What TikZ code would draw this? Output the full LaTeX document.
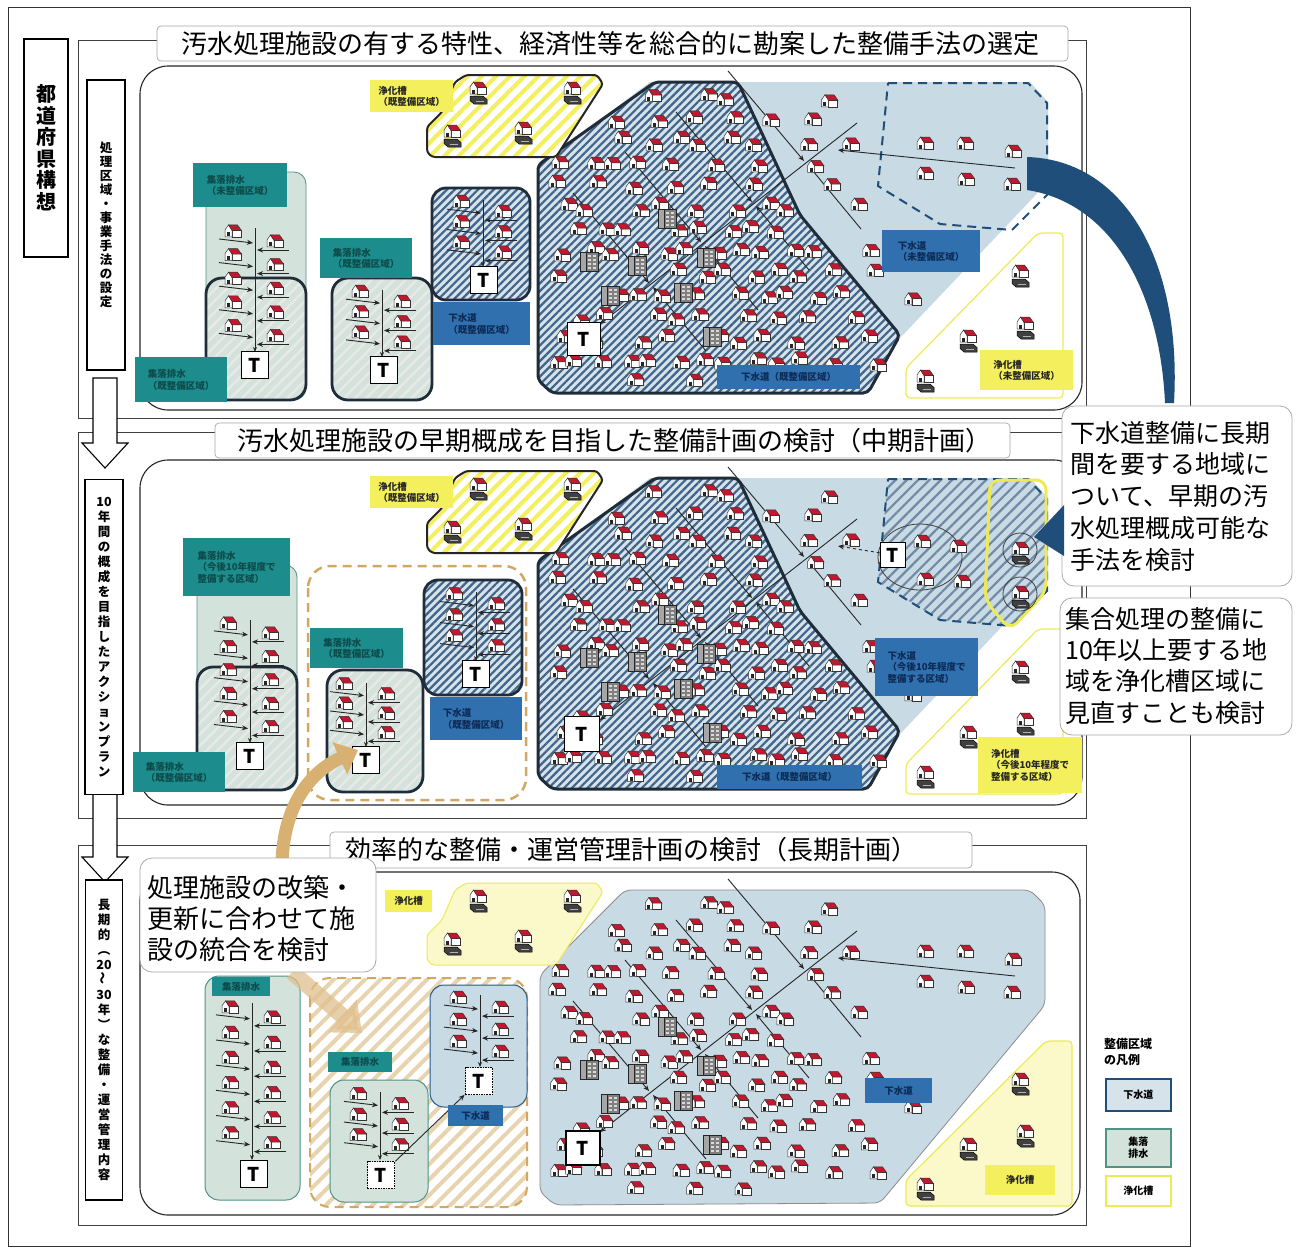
\documentclass[tikz,border=0pt]{standalone}
\usepackage{fontspec}
\setmainfont{Noto Sans CJK JP}
\usepackage{graphicx}
\usetikzlibrary{patterns.meta,arrows.meta}

\definecolor{skyfill}{HTML}{C8DAE4}
\definecolor{hatchline}{HTML}{41648A}
\definecolor{hatchbg}{HTML}{D6E3EA}
\definecolor{edgedark}{HTML}{1F2C3A}
\definecolor{greenfill}{HTML}{D3E2DA}
\definecolor{greenedge}{HTML}{4E9384}
\definecolor{tealtag}{HTML}{1C8C8C}
\definecolor{tealtext}{HTML}{0E4A4A}
\definecolor{bluetag}{HTML}{3070AE}
\definecolor{bluetext}{HTML}{0C2B55}
\definecolor{yeltag}{HTML}{F4EF5C}
\definecolor{yelline}{HTML}{EDEA55}
\definecolor{yelpale}{HTML}{FBF8C9}
\definecolor{tanline}{HTML}{D2A860}
\definecolor{tanarrow}{HTML}{D8B071}
\definecolor{swoosh}{HTML}{1F4E7A}
\definecolor{roofred}{HTML}{C0182F}
\definecolor{callgray}{HTML}{A8A8A8}

\tikzset{
  house/.pic={
    \filldraw[fill=white,draw=black!80,line width=0.5] (-1,0) rectangle (8,7);
    \filldraw[fill=white,draw=black!80,line width=0.5] (-8,0) -- (-4.5,-5) -- (-1,0) -- (-1,7) -- (-8,7) -- cycle;
    \filldraw[fill=roofred,draw=black!80,line width=0.5] (-4.5,-5) -- (4.5,-5) -- (8.5,0.5) -- (-1,0.5) -- cycle;
    \fill[black!85] (-6,2.5) rectangle (-3,6.5);
  },
  septic/.pic={
    \pic at (0,-3) {house};
    \filldraw[fill=black!75,draw=black,line width=0.5] (-8,6) -- (5,6) -- (9,9.5) -- (9,14) -- (-4,14) -- (-8,10.5) -- cycle;
    \draw[black!30,line width=0.7] (-2,11.5) -- (6,11.5);
  },
  building/.pic={
    \filldraw[fill=black!50,draw=black!85,line width=0.5] (-9,-10) rectangle (9,9);
    \filldraw[fill=black!35,draw=black!85,line width=0.5] (-9,-10) rectangle (-3,9);
    \foreach \u in {-1,4} \foreach \v in {-7,-3,1,5} \fill[black!15] (\u,\v) rectangle ++(3,2);
  },
  frameline/.style={draw=black!75,line width=0.9},
  stage/.style={draw=black!85,line width=1.1,fill=white,rounded corners=28},
  titletext/.style={font=\fontsize{26}{30}\selectfont,inner sep=0},
  titlebg/.style={draw=black!35,line width=0.7,fill=white,rounded corners=4},
  vlab/.style={draw=black,line width=1.1,fill=white,align=center,inner sep=0},
  callbox/.style={draw=callgray,line width=0.8,fill=white,rounded corners=12},
  calltext/.style={align=left,inner sep=0,anchor=north west},
  tagT/.style={fill=tealtag,text=tealtext,align=left,anchor=north west,inner sep=3,font=\bfseries\fontsize{9.5}{11.5}\selectfont},
  tagB/.style={fill=bluetag,text=bluetext,align=left,anchor=north west,inner sep=3,font=\bfseries\fontsize{9.5}{11.5}\selectfont},
  tagY/.style={fill=yeltag,text=black!85,align=left,anchor=north west,inner sep=3,font=\bfseries\fontsize{9.5}{11.5}\selectfont},
  tbox/.style={draw=black,line width=1.6,fill=white,minimum size=27,inner sep=0,font=\bfseries\fontsize{19}{19}\selectfont},
  tdot/.style={tbox,densely dotted,line width=1.8},
  pipe/.style={draw=black!85,line width=0.9},
  flow/.style={pipe,-{Stealth[length=6pt,width=5pt]}},
  sewerhatch/.style={pattern={Lines[angle=45,distance=5.5pt,line width=2.2pt]},pattern color=hatchline},
  softhatch/.style={pattern={Lines[angle=45,distance=8pt,line width=2.2pt]},pattern color=hatchline!75},
  greenhatch/.style={pattern={Lines[angle=45,distance=8pt,line width=2.5pt]},pattern color=black!9},
  yelhatch/.style={pattern={Lines[angle=45,distance=10pt,line width=4pt]},pattern color=yeltag},
  tanhatch/.style={pattern={Lines[angle=45,distance=11pt,line width=4pt]},pattern color=tanline!50},
  legbox/.style={line width=1.8,minimum width=65,minimum height=32,inner sep=0,align=center,anchor=north west,font=\bfseries\fontsize{10}{12}\selectfont},
}

% houses scattered over the sewer district (coordinates of the first stage)
\newcommand\scatterhouses{%
  \foreach \i in {0,...,13}{%
    \foreach \j in {0,...,19}{%
      \pgfmathsetmacro\hx{553+25*\j+12*mod(\i,2)+6*sin(97*\i+131*\j+13)}%
      \pgfmathsetmacro\hy{96+22*\i+4*sin(61*\i+173*\j+7)}%
      \pgfmathsetmacro\rr{0.5+0.5*sin(37*\i*\j+89*\j+47*\i+5)}%
      \pgfmathsetmacro\bd{\hy<215 ? 738+(\hy-82)*0.466 : 800+(\hy-215)*0.83}%
      \pgfmathtruncatemacro\inA{(\hy>92)&&(\hy<380)&&(\hx>553)&&(\hy>174-(\hx-538)*0.74)&&(\hx<\bd-10)&&(\rr<0.85)}%
      \pgfmathtruncatemacro\inB{(\hy>95)&&(\hy<362)&&(\hx>\bd+12)&&(\hx<1034)&&(\hx<1048-(\hy-182)*0.94-18)&&((\hx<868)||(\hy>240))&&(\rr<0.42)}%
      \ifnum\inA=1 \pic at (\hx,\hy) {house};\fi
      \ifnum\inB=1 \pic at (\hx,\hy) {house};\fi
    }%
  }%
}

% sewer trunk with its branches
\newcommand\trunkpipes{%
  \draw[flow] (857,123) -- (600,324);
  \foreach \px/\py in {806/163,754/204,703/244,651/285}{%
    \draw[flow] (\px-78,\py-92) -- (\px-2,\py-2);
    \draw[flow] (\px+55,\py+66) -- (\px+2,\py+2);
  }%
}

\newcommand\officeblocks{%
  \foreach \bx/\by in {589/262,610/296,637/266,667/219,683/293,706/258,712/337}{\pic at (\bx,\by) {building};}%
}

% a village collecting pipe with houses on both sides
\newcommand\villa[4]{%
  \pgfmathsetmacro\vstep{(#3-#2-6)/#4}%
  \draw[pipe,-{Stealth[length=5pt,width=4pt]}] (#1,#2) -- (#1,#3);
  \foreach \k in {1,...,#4}{%
    \pgfmathsetmacro\vy{#2+\vstep*(\k-0.45)}%
    \draw[flow] (#1-36,\vy-2) -- (#1-2,\vy+2);
    \draw[flow] (#1+34,\vy+9) -- (#1+2,\vy+9);
    \pic at (#1-22,\vy-11) {house};
    \pic at (#1+20,\vy-1) {house};
  }%
}

% shared districts of the first two stages
\newcommand\basescene{%
  \fill[skyfill] (540,165) -- (650,82) -- (1030,82) -- (1048,102) -- (1048,182) -- (900,338) -- (868,393) -- (552,393) -- (540,380) -- cycle;
  \fill[hatchbg,rounded corners=5] (538,165) -- (655,82) -- (738,82) -- (800,215) -- (900,335) -- (868,393) -- (552,393) -- (538,380) -- cycle;
  \path[sewerhatch,rounded corners=5] (538,165) -- (655,82) -- (738,82) -- (800,215) -- (900,335) -- (868,393) -- (552,393) -- (538,380) -- cycle;
  \draw[edgedark,line width=3,rounded corners=5] (538,165) -- (655,82) -- (738,82) -- (800,215) -- (900,335) -- (868,393) -- (552,393) -- (538,380) -- cycle;
  \fill[white,rounded corners=3] (466,75) -- (597,75) -- (603,84) -- (556,157) -- (432,157) -- (427,152) -- (427,127) -- (442,112) -- (455,82) -- cycle;
  \path[yelhatch,rounded corners=3] (466,75) -- (597,75) -- (603,84) -- (556,157) -- (432,157) -- (427,152) -- (427,127) -- (442,112) -- (455,82) -- cycle;
  \draw[black!85,line width=2,rounded corners=3] (466,75) -- (597,75) -- (603,84) -- (556,157) -- (432,157) -- (427,152) -- (427,127) -- (442,112) -- (455,82) -- cycle;
  \draw[yelline,line width=1.2,rounded corners=4] (1038,233) -- (1063,233) -- (1063,398) -- (906,398) -- (906,368) -- cycle;
  \trunkpipes
  \scatterhouses
  \officeblocks
  \foreach \sx/\sy in {478/90,572/90,452/133,523/130,1020/273,1025/325,968/338,925/378}{\pic at (\sx,\sy) {septic};}%
}

\begin{document}
\begin{tikzpicture}[x=1pt,y=-1pt]
\useasboundingbox (0,0) rectangle (1309,1251);
\fill[white] (0,0) rectangle (1309,1251);
\draw[black!80,line width=1] (8,7) rectangle (1190,1246);

% ---------- stage 1: choice of treatment method ----------
\draw[frameline] (78,40) rectangle (1086,418);
\draw[stage] (140,66) rectangle (1082,410);
\basescene
\draw[swoosh,line width=2,dash pattern=on 9pt off 6pt] (888,83) -- (1028,83) -- (1047,103) -- (1047,195) -- (1012,230) -- (940,224) -- (878,186) -- cycle;
\foreach \hx/\hy in {925/142,965/142,1013/150,925/172,966/178,1012/183}{\pic at (\hx,\hy) {house};}
\draw[flow] (1015,168) -- (838,150);
% village drainage districts
\filldraw[fill=greenfill,draw=greenedge,line width=0.8,rounded corners=12] (206,172) rectangle (306,400);
\fill[greenfill,rounded corners=16] (206,278) rectangle (306,400);
\path[greenhatch,rounded corners=16] (206,278) rectangle (306,400);
\draw[edgedark,line width=2.8,rounded corners=16] (206,278) rectangle (306,400);
\fill[greenfill,rounded corners=16] (332,278) rectangle (432,400);
\path[greenhatch,rounded corners=16] (332,278) rectangle (432,400);
\draw[edgedark,line width=2.8,rounded corners=16] (332,278) rectangle (432,400);
\fill[hatchbg,rounded corners=14] (432,188) rectangle (530,300);
\path[sewerhatch,rounded corners=14] (432,188) rectangle (530,300);
\draw[edgedark,line width=2.8,rounded corners=14] (432,188) rectangle (530,300);
\villa{255}{228}{352}{5}
\villa{382}{290}{357}{3}
\villa{483}{200}{267}{3}
\node[tbox] (ta1) at (255,365) {T};
\node[tbox] (tb1) at (384,370) {T};
\node[tbox] (tc1) at (484,280) {T};
\node[tbox,minimum size=33] (td1) at (584,339) {T};
\node[tagY,minimum width=83,minimum height=32] (y11) at (370,80) {浄化槽\\（既整備区域）};
\node[tagT,minimum width=94,minimum height=44] (g11) at (193,163) {集落排水\\（未整備区域）};
\node[tagT,minimum width=92,minimum height=40] (g12) at (320,238) {集落排水\\（既整備区域）};
\node[tagT,minimum width=92,minimum height=45] (g13) at (135,357) {集落排水\\（既整備区域）};
\node[tagB,minimum width=97,minimum height=43] (b11) at (433,302) {下水道\\（既整備区域）};
\node[tagB,minimum width=98,minimum height=42] (b12) at (882,230) {下水道\\（未整備区域）};
\node[tagB,minimum width=143,minimum height=24] (b13) at (717,365) {下水道（既整備区域）};
\node[tagY,minimum width=93,minimum height=40] (y12) at (980,350) {浄化槽\\（未整備区域）};

% ---------- stage 2: medium-term plan ----------
\draw[frameline] (78,432) rectangle (1086,818);
\draw[stage] (140,460) rectangle (1082,805);
\begin{scope}[shift={(0,396)}]
  \basescene
\end{scope}
\fill[skyfill] (888,479) -- (1028,479) -- (1047,499) -- (1047,591) -- (1012,626) -- (940,620) -- (878,582) -- cycle;
\path[softhatch] (888,479) -- (1028,479) -- (1047,499) -- (1047,591) -- (1012,626) -- (940,620) -- (878,582) -- cycle;
\draw[swoosh,line width=2,dash pattern=on 9pt off 6pt] (888,479) -- (1028,479) -- (1047,499) -- (1047,591) -- (1012,626) -- (940,620) -- (878,582) -- cycle;
\draw[yelline,line width=3,rounded corners=10] (990,480) -- (985,600) -- (1010,630) -- (1046,592) -- (1046,480) -- cycle;
\draw[black!75,line width=0.8] (920,557) ellipse [x radius=42pt,y radius=33pt];
\foreach \hx/\hy in {922/540,958/545,925/578,962/580}{\pic at (\hx,\hy) {house};}
\foreach \sx/\sy in {1020/550,1020/594}{\draw[black!75,line width=0.8] (\sx,\sy) circle [radius=17pt]; \pic at (\sx,\sy) {septic};}
\node[tbox,minimum size=25] (te2) at (893,555) {T};
\draw[flow,dashed] (te2) -- (838,546);
% village drainage districts
\filldraw[fill=greenfill,draw=greenedge,line width=0.8,rounded corners=12] (197,565) rectangle (297,790);
\fill[greenfill,rounded corners=16] (197,667) rectangle (297,790);
\path[greenhatch,rounded corners=16] (197,667) rectangle (297,790);
\draw[edgedark,line width=2.8,rounded corners=16] (197,667) rectangle (297,790);
\draw[tanline,line width=2.5,dash pattern=on 9pt off 6pt,rounded corners=22] (308,566) rectangle (526,800);
\fill[greenfill,rounded corners=16] (327,670) rectangle (423,792);
\path[greenhatch,rounded corners=16] (327,670) rectangle (423,792);
\draw[edgedark,line width=2.8,rounded corners=16] (327,670) rectangle (423,792);
\fill[hatchbg,rounded corners=14] (424,580) rectangle (522,695);
\path[sewerhatch,rounded corners=14] (424,580) rectangle (522,695);
\draw[edgedark,line width=2.8,rounded corners=14] (424,580) rectangle (522,695);
\villa{250}{620}{743}{5}
\villa{366}{683}{747}{3}
\villa{476}{592}{661}{3}
\node[tbox] (ta2) at (250,756) {T};
\node[tbox] (tb2) at (366,760) {T};
\node[tbox] (tc2) at (476,674) {T};
\node[tbox,minimum size=35] (td2) at (582,734) {T};
\node[tagY,minimum width=83,minimum height=32] (y21) at (370,476) {浄化槽\\（既整備区域）};
\node[tagT,minimum width=107,minimum height=58] (g21) at (183,538) {集落排水\\（今後10年程度で\\整備する区域）};
\node[tagT,minimum width=92,minimum height=40] (g22) at (133,752) {集落排水\\（既整備区域）};
\node[tagT,minimum width=93,minimum height=40] (g23) at (310,628) {集落排水\\（既整備区域）};
\node[tagB,minimum width=92,minimum height=43] (b21) at (430,697) {下水道\\（既整備区域）};
\node[tagB,minimum width=103,minimum height=58] (b22) at (875,638) {下水道\\（今後10年程度で\\整備する区域）};
\node[tagB,minimum width=145,minimum height=24] (b23) at (717,765) {下水道（既整備区域）};
\node[tagY,minimum width=104,minimum height=56] (y22) at (978,737) {浄化槽\\（今後10年程度で\\整備する区域）};

% ---------- stage 3: long-term plan ----------
\draw[frameline] (78,845) rectangle (1086,1225);
\draw[stage] (140,872) rectangle (1080,1215);
\filldraw[fill=skyfill,draw=black!45,line width=0.8,rounded corners=6] (540,975) -- (625,890) -- (1030,890) -- (1045,905) -- (1045,1005) -- (880,1203) -- (555,1205) -- (540,1192) -- cycle;
\filldraw[fill=yelpale,draw=yelline,line width=1,rounded corners=3] (466,883) -- (597,883) -- (603,892) -- (556,965) -- (432,965) -- (427,960) -- (427,935) -- (442,920) -- (455,890) -- cycle;
\filldraw[fill=yelpale,draw=yelline,line width=1.2,rounded corners=4] (1046,1041) -- (1072,1041) -- (1072,1206) -- (906,1206) -- (906,1180) -- cycle;
\begin{scope}[shift={(0,808)}]
  \trunkpipes
  \scatterhouses
  \officeblocks
  \foreach \hx/\hy in {925/142,965/142,1013/150,925/172,966/178,1012/183}{\pic at (\hx,\hy) {house};}
  \draw[flow] (1015,168) -- (838,150);
  \foreach \sx/\sy in {478/90,572/90,452/133,523/130,1020/273,1025/325,968/338,925/378}{\pic at (\sx,\sy) {septic};}
\end{scope}
\filldraw[fill=greenfill,draw=greenedge,line width=1,rounded corners=14] (205,976) rectangle (300,1200);
\fill[white,rounded corners=20] (310,978) rectangle (527,1207);
\path[tanhatch,rounded corners=20] (310,978) rectangle (527,1207);
\draw[tanline,line width=2,dash pattern=on 9pt off 6pt,rounded corners=20] (310,978) rectangle (527,1207);
\filldraw[fill=greenfill,draw=greenedge,line width=1,rounded corners=14] (330,1080) rectangle (428,1202);
\filldraw[fill=skyfill,draw=bluetag!80!black,line width=1,rounded corners=14] (430,985) rectangle (527,1107);
\villa{252}{1003}{1160}{6}
\villa{380}{1092}{1160}{3}
\villa{480}{995}{1067}{3}
\node[tbox] (ta3) at (254,1174) {T};
\node[tdot] (tb3) at (381,1175) {T};
\node[tdot] (tc3) at (479,1081) {T};
\node[tbox,minimum size=34] (td3) at (583,1148) {T};
\draw[flow] (tb3) -- (tc3);
\node[tagY,minimum width=47,minimum height=22] (y31) at (385,890) {浄化槽};
\node[tagT,minimum width=58,minimum height=19] (g31) at (212,977) {集落排水};
\node[tagT,minimum width=64,minimum height=20] (g32) at (328,1052) {集落排水};
\node[tagB,minimum width=55,minimum height=21] (b31) at (448,1105) {下水道};
\node[tagB,minimum width=67,minimum height=25] (b32) at (865,1078) {下水道};
\node[tagY,minimum width=70,minimum height=30] (y32) at (985,1165) {浄化槽};

% ---------- arrows between stages and side labels ----------
\foreach \ay in {378,792}{%
  \filldraw[fill=white,draw=black,line width=1.1] (93,\ay) -- (117,\ay) -- (117,\ay+65) -- (128,\ay+65) -- (105,\ay+90) -- (82,\ay+65) -- (93,\ay+65) -- cycle;
}
\node[vlab,minimum width=44,minimum height=218,font=\bfseries\fontsize{20}{21.5}\selectfont] (pref) at (46,148) {都\\道\\府\\県\\構\\想};
\node[vlab,minimum width=38,minimum height=290,font=\bfseries\fontsize{12.5}{14}\selectfont] (lab1) at (106,225) {処\\理\\区\\域\\・\\事\\業\\手\\法\\の\\設\\定};
\node[vlab,minimum width=38,minimum height=315,font=\bfseries\fontsize{12.5}{15}\selectfont] (lab2) at (104,637) {10\\年\\間\\の\\概\\成\\を\\目\\指\\し\\た\\ア\\ク\\シ\\ョ\\ン\\プ\\ラ\\ン};
\node[vlab,minimum width=37,minimum height=320,font=\bfseries\fontsize{12.5}{15}\selectfont] (lab3) at (104,1040) {長\\期\\的\\︵\\20\\\rotatebox{90}{～}\\30\\年\\︶\\な\\整\\備\\・\\運\\営\\管\\理\\内\\容};

% ---------- titles ----------
\draw[titlebg] (157,26) rectangle (1068,61);
\node[titletext] (title1) at (610,43.5) {汚水処理施設の有する特性、経済性等を総合的に勘案した整備手法の選定};
\draw[titlebg] (215,423) rectangle (1010,458);
\node[titletext] (title2) at (614,440.5) {汚水処理施設の早期概成を目指した整備計画の検討（中期計画）};
\draw[titlebg] (330,832) rectangle (972,868);
\node[titletext] (title3) at (631,850) {効率的な整備・運営管理計画の検討（長期計画）};

% ---------- callouts ----------
\fill[swoosh] (1027,157) .. controls (1125,160) and (1182,262) .. (1174,403) -- (1165,403) .. controls (1160,292) and (1112,203) .. (1027,190) -- cycle;
\draw[callbox] (1062,406) rectangle (1292,586);
\node[calltext,font=\fontsize{25}{31.75}\selectfont] (note1) at (1070,421) {下水道整備に長期\\間を要する地域に\\ついて、早期の汚\\水処理概成可能な\\手法を検討};
\fill[swoosh] (1064,505) -- (1064,556) -- (1034,537) -- cycle;
\draw[callbox] (1060,598) rectangle (1292,735);
\node[calltext,font=\fontsize{25}{31.3}\selectfont] (note2) at (1065,607) {集合処理の整備に\\10年以上要する地\\域を浄化槽区域に\\見直すことも検討};
\draw[tanarrow,line width=13,-{Triangle[length=20pt,width=34pt]}] (282,862) .. controls (284,805) and (310,772) .. (358,750);
\draw[tanarrow!80,opacity=0.75,line width=16,-{Triangle[length=26pt,width=42pt]}] (292,972) -- (362,1033);
\draw[callbox] (140,858) rectangle (376,972);
\node[calltext,font=\fontsize{26}{31}\selectfont] (note3) at (147,875) {処理施設の改築・\\更新に合わせて施\\設の統合を検討};

% ---------- legend ----------
\node[align=left,anchor=north west,inner sep=0,font=\bfseries\fontsize{12}{16}\selectfont] (legtitle) at (1104,1038) {整備区域\\の凡例};
\node[legbox,draw=swoosh,fill=hatchbg] (legsewer) at (1105,1078) {下水道};
\node[legbox,draw=greenedge,fill=greenfill,minimum height=38] (legvillage) at (1105,1128) {集落\\排水};
\node[legbox,draw=yelline,fill=white,minimum height=30] (legseptic) at (1105,1175) {浄化槽};
\end{tikzpicture}
\end{document}
